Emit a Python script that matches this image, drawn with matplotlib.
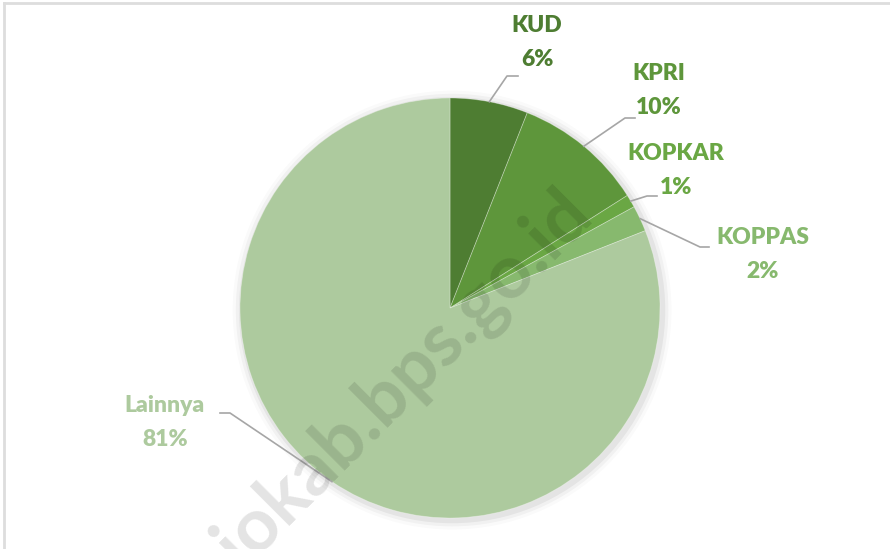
import matplotlib.pyplot as plt
import numpy as np

# data
labels = ['KUD', 'KPRI', 'KOPKAR', 'KOPPAS', 'Lainnya']
values = [6, 10, 1, 2, 81]
colors = ['#4e7d32', '#5e963b', '#6aa744', '#87b96e', '#adca9e']

# layout: pixel scale (1 data unit = R px), pie centre in pixels
W, H, R = 890, 549, 210
cx, cy = 450, 308

def px(x, y):
    return (x - cx) / R, (cy - y) / R

fig = plt.figure(figsize=(W / 100, H / 100), dpi=100)
ax = fig.add_axes([0, 0, 1, 1])

# soft shadow behind the pie
for i, a in enumerate([0.05, 0.035, 0.02]):
    ax.add_patch(plt.Circle((0.01, -0.01), 1.0 + 0.015 * (i + 1), color='#000000',
                            alpha=a, lw=0, zorder=0))

wedges, _ = ax.pie(values, colors=colors, startangle=90, counterclock=False,
                   radius=1.0, wedgeprops=dict(linewidth=0.6, edgecolor='#ffffff55'))
ax.set_aspect('auto')
ax.set_xlim(-cx / R, (W - cx) / R)
ax.set_ylim(-(H - cy) / R, cy / R)
ax.axis('off')

# label text (name, percent) centres and leader elbows, in pixels
text_pos = [(537, 25), (659, 73), (676, 153), (763, 237), (165, 405)]
elbows = [((507, 76), (518, 76)), ((625, 118), (635, 118)), ((647, 196), (657, 196)),
          ((700, 247), (709, 247)), ((230, 413), (220, 413))]

for w, lab, val, col, tp, el in zip(wedges, labels, values, colors, text_pos, elbows):
    ang = np.deg2rad((w.theta1 + w.theta2) / 2)
    x0, y0 = np.cos(ang), np.sin(ang)
    e1, e2 = px(*el[0]), px(*el[1])
    ax.plot([x0, e1[0], e2[0]], [y0, e1[1], e2[1]], color='#a6a6a6', lw=1.2, zorder=3)
    tx, ty = px(*tp)
    ax.text(tx, ty, lab, color=col, fontsize=16.5, fontweight='heavy',
            ha='center', va='center', family='Lato')
    ax.text(tx, ty - 34 / R, f'{val}%', color=col, fontsize=16.5, fontweight='heavy',
            ha='center', va='center', family='Lato')

# watermark, anchored at its right end
wx, wy = px(580, 202)
ax.text(wx, wy, 'purworejokab.bps.go.id', fontsize=54, fontweight='bold', color='#000000',
        alpha=0.11, rotation=45, rotation_mode='anchor', ha='right', va='center',
        family='Lato', zorder=5)

# frame lines top and left
fig.add_artist(plt.Line2D([4 / W, 1], [1 - 3 / H, 1 - 3 / H], color='#dddddd', lw=2))
fig.add_artist(plt.Line2D([4 / W, 4 / W], [0, 1 - 3 / H], color='#dddddd', lw=2))

fig.savefig('out.png', dpi=100, facecolor='white')
